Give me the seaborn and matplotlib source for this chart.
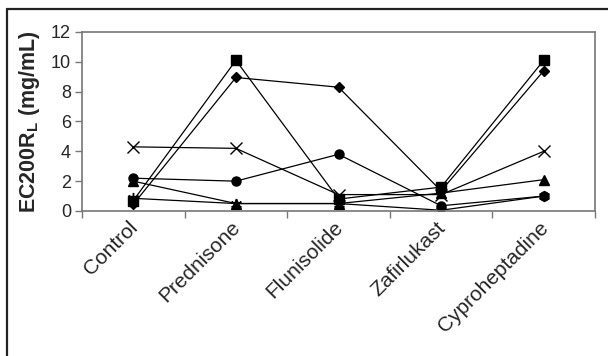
import numpy as np
import pandas as pd
import matplotlib
matplotlib.use('Agg')
import matplotlib.pyplot as plt
import matplotlib.transforms as mtransforms
from matplotlib.lines import Line2D
import seaborn as sns

# ----------- Data -----------
treatments = ['Control', 'Prednisone', 'Flunisolide', 'Zafirlukast', 'Cyproheptadine']
square = [0.7, 10.1, 0.8, 1.6, 10.1]
diamond = [0.45, 8.95, 8.3, 1.35, 9.4]
triangle = [2.0, 0.5, 0.5, 1.2, 2.1]
cross = [4.3, 4.2, 1.1, 1.1, 4.0]
circle = [2.2, 2.0, 3.8, 0.35, 1.0]
star = [0.85, 0.5, 0.5, 0.05, 1.0]

series = {'square': square, 'diamond': diamond, 'triangle': triangle,
          'cross': cross, 'circle': circle, 'star': star}
marker_map = {'square': 's', 'diamond': 'D', 'triangle': '^',
              'cross': 'x', 'circle': 'o', 'star': (6, 2, 0)}
size_map = {'square': 6.5, 'diamond': 5.5, 'triangle': 6.5,
            'cross': 8, 'circle': 6.5, 'star': 8}

# ----------- Plot -----------
sns.set_style('white')
plt.rcParams['font.family'] = ['Liberation Sans', 'DejaVu Sans']
plt.rcParams['mathtext.fontset'] = 'custom'
plt.rcParams['mathtext.rm'] = 'Liberation Sans'
plt.rcParams['mathtext.bf'] = 'Liberation Sans:bold'

fig = plt.figure(figsize=(6.08, 3.56), dpi=100)
ax = fig.add_axes([82 / 608, 1 - 211 / 356, (595 - 82) / 608, (211 - 32) / 356])

for name, vals in series.items():
    d = pd.DataFrame({'pos': range(len(treatments)), 'value': vals})
    sns.lineplot(data=d, x='pos', y='value', marker=marker_map[name],
                 markersize=size_map[name], color='black', linewidth=0.9,
                 markeredgecolor='black', markeredgewidth=1.0, ax=ax)

ax.set_xlim(-0.5, 4.5)
ax.set_ylim(0, 12)
ax.set_yticks(np.arange(0, 13, 2))
ax.set_xticks(range(len(treatments)))
ax.set_xticklabels(treatments, rotation=45, ha='right', rotation_mode='anchor', fontsize=15)
ax.set_xticks(np.arange(-0.5, 5, 1), minor=True)
ax.tick_params(axis='x', which='major', length=0, pad=5)
ax.tick_params(axis='x', which='minor', length=5, width=1, color='#777777', direction='out', bottom=True)
ax.tick_params(axis='y', length=5, width=1, color='#777777', direction='out', left=True,
               labelsize=13, pad=3)
# nudge the rotated labels a little to the left
shift = mtransforms.ScaledTranslation(-5 / 100, 0, fig.dpi_scale_trans)
for lbl in ax.get_xticklabels():
    lbl.set_transform(lbl.get_transform() + shift)
for s in ax.spines.values():
    s.set_color('#777777')
    s.set_linewidth(1.2)

ax.set_xlabel('')
ax.set_ylabel(r'EC200R$_\mathbf{L}$ (mg/mL)', fontsize=15.5, fontweight='bold', labelpad=6)

# outer frame (top and left edges of the original figure border)
fig.add_artist(Line2D([7 / 608, 1], [1 - 9 / 356, 1 - 9 / 356], color='#222222', lw=1.6,
                      transform=fig.transFigure))
fig.add_artist(Line2D([7 / 608, 7 / 608], [0, 1 - 9 / 356], color='#222222', lw=1.6,
                      transform=fig.transFigure))

plt.savefig('out.png', dpi=100)
